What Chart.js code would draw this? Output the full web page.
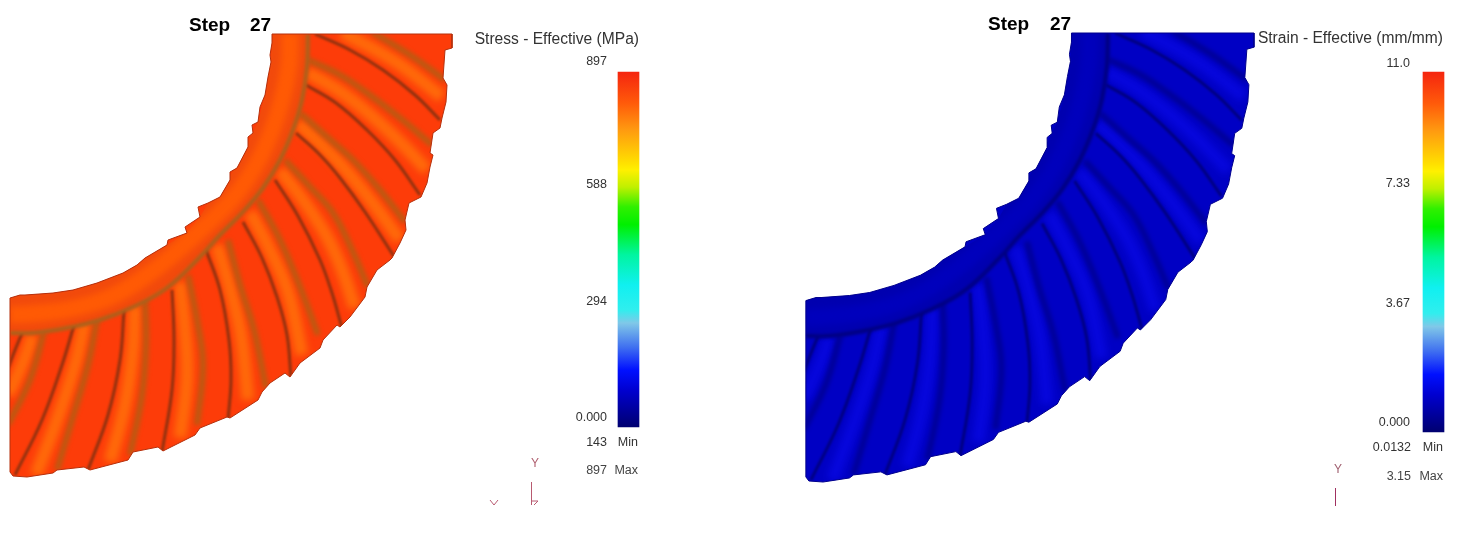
<!DOCTYPE html>
<html>
<head>
<meta charset="utf-8">
<title>Step 27</title>
<script src="https://cdn.jsdelivr.net/npm/chart.js@4/dist/chart.umd.js"></script>
<style>
  body { margin: 0; background: #fff; }
  canvas { position: absolute; top: 0; }
  #stressChart { left: 0; }
  #strainChart { left: 735px; }
</style>
</head>
<body>
<canvas id="stressChart" width="735" height="541"></canvas>
<canvas id="strainChart" width="735" height="541"></canvas>
<script>
// gear shape. Both panels show the same part
const gearOutline = [[272,34],[452,34],[452,48],[445,50],[443,78],[447,85],[446,102],[442,118],[440,128],[433,133],[430,153],[433,155],[430,167],[427,183],[421,197],[409,203],[405,220],[406,230],[400,243],[392,258],[390,260],[377,270],[367,287],[365,297],[350,317],[340,327],[337,325],[323,340],[320,348],[300,363],[290,377],[285,373],[270,383],[262,392],[258,400],[230,418],[227,417],[200,428],[195,435],[163,451],[158,447],[133,452],[128,460],[90,470],[84,467],[57,470],[53,473],[27,477],[13,476],[10,472],[10,298],[20,295],[25,295],[53,293],[73,290],[97,283],[123,273],[137,265],[145,258],[167,245],[168,240],[187,233],[185,227],[200,217],[198,207],[208,203],[220,197],[230,180],[230,172],[237,168],[248,147],[248,137],[253,133],[252,125],[258,122],[260,107],[265,95],[268,77],[271,62],[270,55],[272,43]];
const ringEdge = [[308,34],[307,67],[302,100],[293,130],[280,160],[263,188],[242,213],[220,235],[200,257],[167,288],[133,307],[100,320],[67,328],[33,333],[10,333]];
const ringInner = [[10,298],[20,295],[53,293],[73,290],[97,283],[123,273],[145,258],[167,245],[187,233],[200,217],[208,203],[220,197],[230,176],[248,142],[258,122],[265,95],[271,62],[272,34]];
const ringMiddle = [[290,34],[289,65],[282,100],[271,133],[256,165],[234,197],[206,225],[175,253],[150,273],[115,295],[75,308],[40,313],[10,315]];

// thin dark grooves between the teeth
const grooves = [
  [[315,34],[350,50],[383,70],[415,95],[440,120]],
  [[306,85],[336,103],[367,130],[395,160],[420,195]],
  [[296,133],[320,155],[340,178],[365,212],[395,258]],
  [[275,180],[298,216],[320,260],[332,293],[342,328]],
  [[243,222],[262,258],[277,297],[287,335],[291,378]],
  [[206,250],[220,290],[229,340],[231,380],[228,420]],
  [[172,290],[174,340],[172,390],[162,452]],
  [[124,310],[120,360],[108,415],[88,470]],
  [[74,325],[62,365],[42,420],[15,475]],
  [[22,333],[15,350],[8,368]]
];
// wider soft dark bands
const flanks = [
  [[372,32],[410,55],[445,80]],
  [[308,60],[340,75],[367,93],[400,118],[432,145]],
  [[300,113],[327,137],[353,160],[380,190],[405,222]],
  [[285,160],[310,187],[333,213],[352,250],[368,287]],
  [[258,200],[280,240],[300,287],[318,335]],
  [[228,240],[240,285],[254,330],[266,388]],
  [[188,275],[197,320],[203,365],[197,425]],
  [[145,300],[146,345],[142,395],[130,455]],
  [[97,320],[88,365],[72,420],[57,470]],
  [[44,332],[30,380],[8,425]]
];
// bright bands
const crests = [
  [[342,32],[396,62],[442,97]],
  [[307,72],[338,90],[367,112],[398,140],[427,170]],
  [[298,123],[323,146],[346,170],[372,202],[400,240]],
  [[280,170],[303,200],[327,237],[342,270],[355,308]],
  [[250,212],[270,250],[288,292],[302,355]],
  [[217,245],[230,288],[241,335],[248,400]],
  [[180,282],[185,330],[187,378],[180,438]],
  [[135,305],[133,350],[125,405],[110,462]],
  [[85,322],[75,365],[57,420],[36,475]],
  [[33,335],[22,365],[8,395]]
];

// colour bar
const barStops = [0, 0.104, 0.16, 0.225, 0.293, 0.33, 0.40, 0.485, 0.57, 0.62, 0.676, 0.724, 0.744, 0.837, 0.913, 1];
const barColors = ['#000070','#0000d0','#0010ff','#4070f0','#80c8e8','#30eeee','#10f0f0','#00f5a0','#00f000','#30f000','#c0f000','#fff000','#ffe000','#ff9a10','#ff5a0a','#f5250f'];

const stressTicks = [0, 294, 588, 897];
const stressTickLabels = ['0.000', '294', '588', '897'];
const strainTicks = [0, 3.67, 7.33, 11];
const strainTickLabels = ['0.000', '3.67', '7.33', '11.0'];

const stressTexts = ['Step', '27', 'Stress - Effective (MPa)', '143', 'Min', '897', 'Max', 'Y'];
const strainTexts = ['Step', '27', 'Strain - Effective (mm/mm)', '0.0132', 'Min', '3.15', 'Max', 'Y'];

const stressTriad = [
  [[531.5,482],[531.5,505]],
  [[532,501],[538,501],[534,505]],
  [[490,500],[494,505],[498,500]]
];
const strainTriad = [
  [[600.5,488],[600.5,506]]
];

const stressPalette = { teeth:'#fd3c09', groove:'#8f3210', flank:'#ba5a12', crest:'#ff6a0a', ring:'#f24a0c', ringMid:'#ff5a04', ringEdge:'#a9621c', outline:'#b5300c', triad:'#b85a70' };
const strainPalette = { teeth:'#0000c4', groove:'#000080', flank:'#000098', crest:'#0606dc', ring:'#0000b0', ringMid:'#0000bc', ringEdge:'#000080', outline:'#00008c', triad:'#a03060' };

const FONT = '"Liberation Sans", Arial, sans-serif';

const xy = pts => pts.map(p => ({ x: p[0], y: p[1] }));

// two pixel/value pairs -> axis limits over the canvas height
function axisRange(v1, px1, v2, px2, height) {
  const perPx = (v2 - v1) / (px2 - px1);
  return { min: v1 + (height - px1) * perPx, max: v1 - px1 * perPx };
}

function gearLine(points, color, width, blur, tension) {
  return { data: xy(points), borderColor: color, borderWidth: width, blur: blur, clipGear: true, tension: tension === undefined ? 0.4 : tension };
}

function buildDatasets(p, triad, barX, barMax) {
  // painted in this order, the list is reversed at the end since chart.js paints first dataset on top
  const sets = [];
  sets.push({ data: xy(gearOutline), polygon: true, isGear: true, backgroundColor: p.teeth, borderWidth: 0 });
  crests.forEach(c => sets.push(gearLine(c, p.crest, 13, 3.5)));
  flanks.forEach(c => sets.push(gearLine(c, p.flank, 6, 2.2)));
  grooves.forEach(c => sets.push(gearLine(c, p.groove, 3, 0.8)));
  sets.push({ data: xy(ringEdge.concat(ringInner)), polygon: true, clipGear: true, backgroundColor: p.ring, borderWidth: 0 });
  sets.push(gearLine(ringMiddle, p.ringMid, 17, 3));
  sets.push(gearLine(ringEdge, p.ringEdge, 4, 1.5));
  sets.push({ data: xy(gearOutline.concat([gearOutline[0]])), borderColor: p.outline, borderWidth: 1, tension: 0 });
  triad.forEach(t => sets.push({ data: xy(t), borderColor: p.triad, borderWidth: 1, tension: 0, xAxisID: 'xPanel', yAxisID: 'yPanel' }));
  sets.push({
    type: 'bar',
    data: [{ x: barX, y: [0, barMax] }],
    barThickness: 21,
    borderWidth: 0,
    xAxisID: 'xPanel',
    yAxisID: 'yBar',
    backgroundColor: ctx => {
      const s = ctx.chart.scales.yBar;
      if (!ctx.chart.chartArea) return barColors[0];
      const g = ctx.chart.ctx.createLinearGradient(0, s.getPixelForValue(0), 0, s.getPixelForValue(barMax));
      barStops.forEach((f, i) => g.addColorStop(f, barColors[i]));
      return g;
    }
  });
  return sets.reverse();
}

// filled polygons, soft bands clipped to the gear, and free text
const gearPlugin = {
  id: 'gearPlugin',
  beforeDatasetDraw(chart, args) {
    const ds = chart.data.datasets[args.index];
    const ctx = chart.ctx;
    ctx.save();
    if (ds.clipGear) {
      const gearIndex = chart.data.datasets.findIndex(d => d.isGear);
      ctx.beginPath();
      chart.getDatasetMeta(gearIndex).dataset.path(ctx);
      ctx.closePath();
      ctx.clip();
    }
    if (ds.blur) ctx.filter = 'blur(' + ds.blur + 'px)';
    if (ds.polygon) {
      ctx.beginPath();
      args.meta.dataset.path(ctx);
      ctx.closePath();
      ctx.fillStyle = ds.backgroundColor;
      ctx.fill();
    }
  },
  afterDatasetDraw(chart) {
    chart.ctx.restore();
  },
  afterDraw(chart) {
    const ctx = chart.ctx;
    const o = chart.options.plugins.gearPlugin;
    const sx = chart.scales.xPanel, sy = chart.scales.yPanel;
    ctx.save();
    ctx.textBaseline = 'middle';
    o.texts.forEach((t, i) => {
      const s = o.spots[i];
      ctx.font = s[3] + ' ' + FONT;
      ctx.fillStyle = s[4];
      ctx.textAlign = s[2];
      ctx.fillText(t, sx.getPixelForValue(s[0]), sy.getPixelForValue(s[1]));
    });
    ctx.restore();
  }
};

function makeChart(id, cfg) {
  const tickRange = axisRange(cfg.ticks[0], cfg.tickBottom, cfg.ticks[3], cfg.tickTop, 541);
  const barRange = axisRange(0, cfg.barBottom, cfg.ticks[3], cfg.barTop, 541);
  return new Chart(document.getElementById(id), {
    type: 'scatter',
    data: { datasets: buildDatasets(cfg.palette, cfg.triad, cfg.barX, cfg.ticks[3]) },
    plugins: [gearPlugin],
    options: {
      responsive: false,
      animation: false,
      layout: { padding: 0, autoPadding: false },
      elements: { point: { radius: 0 } },
      datasets: { scatter: { showLine: true, fill: false } },
      plugins: {
        legend: { display: false },
        tooltip: { enabled: false },
        gearPlugin: { texts: cfg.texts, spots: cfg.spots }
      },
      scales: {
        x: { type: 'linear', display: false, min: cfg.xMin, max: cfg.xMax },
        y: { type: 'linear', display: false, reverse: true, min: cfg.yMin, max: cfg.yMax },
        // the bar dataset would turn offset on for this axis
        xPanel: { type: 'linear', axis: 'x', display: false, offset: false, min: 0, max: 735 },
        yPanel: { type: 'linear', axis: 'y', display: false, reverse: true, min: 0, max: 541 },
        yBar: { type: 'linear', axis: 'y', display: false, min: barRange.min, max: barRange.max },
        yTicks: {
          type: 'linear',
          axis: 'y',
          position: { xPanel: cfg.tickX },
          min: tickRange.min,
          max: tickRange.max,
          grid: { display: false },
          border: { display: false },
          afterBuildTicks: scale => { scale.ticks = cfg.ticks.map(v => ({ value: v })); },
          afterFit: scale => {
            scale.width = 0;
            scale.paddingLeft = scale.paddingRight = scale.paddingTop = scale.paddingBottom = 0;
          },
          ticks: {
            autoSkip: false,
            padding: 0,
            color: '#333',
            font: { family: FONT, size: 12.5 },
            callback: (v, i) => cfg.tickLabels[i]
          }
        }
      }
    }
  });
}

let stressChart = makeChart('stressChart', {
  palette: stressPalette, triad: stressTriad, texts: stressTexts,
  ticks: stressTicks, tickLabels: stressTickLabels,
  xMin: 0, xMax: 735, yMin: 0, yMax: 541,
  // a fixed-thickness bar ends at its x value here, so this is the right edge
  barX: 639, barBottom: 427, barTop: 72,
  tickX: 607, tickBottom: 418, tickTop: 62,
  spots: [
    [189, 26, 'left', 'bold 19px', '#000'],
    [250, 26, 'left', 'bold 19px', '#000'],
    [639, 40, 'right', '15.6px', '#333'],
    [607, 443, 'right', '12.5px', '#333'],
    [638, 443, 'right', '12.5px', '#333'],
    [607, 471, 'right', '12.5px', '#444'],
    [638, 471, 'right', '12.5px', '#444'],
    [535, 464, 'center', '12px', '#b06070']
  ]
});

// right picture is the same gear, drawn about 1.4% larger
let strainChart = makeChart('strainChart', {
  palette: strainPalette, triad: strainTriad, texts: strainTexts,
  ticks: strainTicks, tickLabels: strainTickLabels,
  xMin: -59.9, xMax: 665.1, yMin: 1.44, yMax: 535.2,
  barX: 709, barBottom: 432, barTop: 72,
  tickX: 675, tickBottom: 423, tickTop: 64,
  spots: [
    [253, 25, 'left', 'bold 19px', '#000'],
    [315, 25, 'left', 'bold 19px', '#000'],
    [708, 39, 'right', '15.6px', '#333'],
    [676, 448, 'right', '12.5px', '#333'],
    [708, 448, 'right', '12.5px', '#333'],
    [676, 477, 'right', '12.5px', '#444'],
    [708, 477, 'right', '12.5px', '#444'],
    [603, 470, 'center', '12px', '#a06070']
  ]
});
</script>
</body>
</html>
